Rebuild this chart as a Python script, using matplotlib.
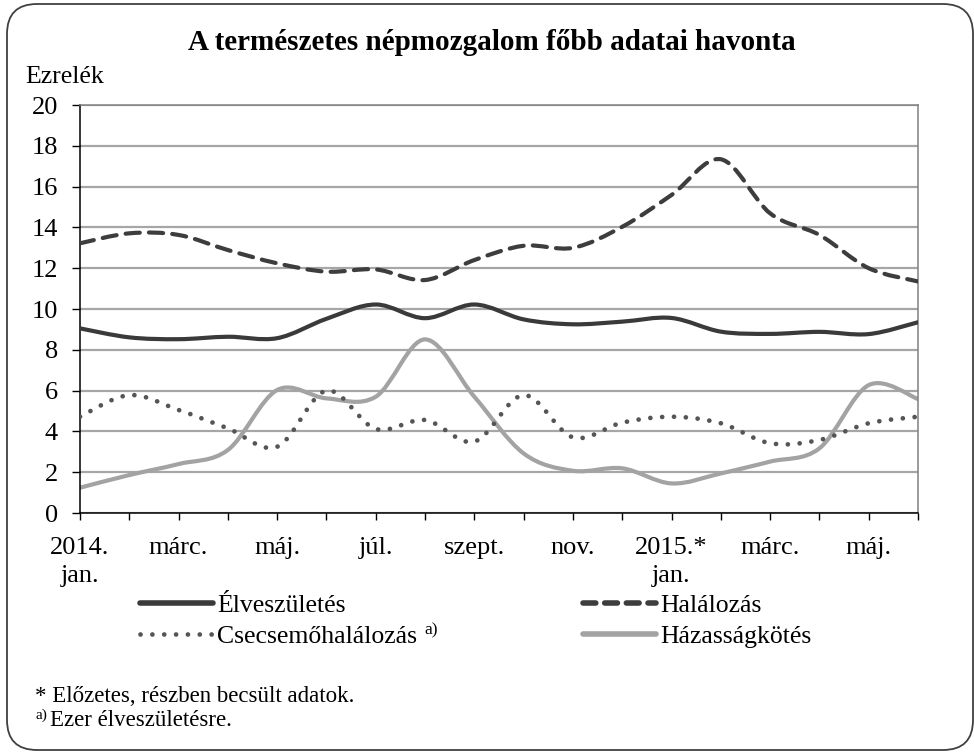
import matplotlib
matplotlib.use("Agg")
import matplotlib.pyplot as plt
import numpy as np
from matplotlib.path import Path
from matplotlib.patches import PathPatch, FancyBboxPatch
from matplotlib.lines import Line2D
from matplotlib.transforms import IdentityTransform

plt.rcParams['font.family'] = ['Liberation Serif', 'DejaVu Serif']

months = ["2014.\njan.", "febr.", "márc.", "ápr.", "máj.", "jún.", "júl.", "aug.", "szept.",
          "okt.", "nov.", "dec.", "2015.*\njan.", "febr.", "márc.", "ápr.", "máj.", "jún."]
elveszuletes = [9.05, 8.61, 8.52, 8.64, 8.57, 9.52, 10.22, 9.55, 10.22,
                9.49, 9.25, 9.38, 9.56, 8.89, 8.78, 8.88, 8.77, 9.35]
halalozas = [13.22, 13.71, 13.63, 12.89, 12.24, 11.83, 11.94, 11.42, 12.40,
             13.10, 13.00, 14.03, 15.59, 17.34, 14.69, 13.63, 12.00, 11.35]
csecsemo = [4.72, 5.78, 5.05, 4.15, 3.25, 6.00, 4.12, 4.56, 3.50,
            5.78, 3.71, 4.43, 4.72, 4.40, 3.42, 3.58, 4.40, 4.72]
hazassag = [1.24, 1.86, 2.40, 3.09, 6.03, 5.62, 5.70, 8.51, 5.70,
            2.92, 2.07, 2.19, 1.45, 1.94, 2.52, 3.17, 6.27, 5.59]

W, H = 974, 754
fig = plt.figure(figsize=(W / 100, H / 100), dpi=100)
ax = fig.add_axes([80 / W, 1 - 513 / H, (918 - 80) / W, (513 - 105) / H])

x = np.arange(len(months))


def smooth_path(xs, ys):
    pts = np.column_stack([xs, ys]).astype(float)
    n = len(pts)
    verts = [pts[0]]
    codes = [Path.MOVETO]
    for i in range(n - 1):
        p0 = pts[i - 1] if i > 0 else pts[i]
        p1 = pts[i]
        p2 = pts[i + 1]
        p3 = pts[i + 2] if i + 2 < n else pts[i + 1]
        c1 = p1 + (p2 - p0) / 6.0
        c2 = p2 - (p3 - p1) / 6.0
        verts += [c1, c2, p2]
        codes += [Path.CURVE4] * 3
    return Path(verts, codes)


C_ELVE = "#3a3a3a"
C_HAL = "#3d3d3d"
C_CSE = "#555555"
C_HAZ = "#a3a3a3"
DASH = (0, (3.4, 2.2))
DOT = (0, (0.01, 2.5))

styles = [
    (elveszuletes, dict(color=C_ELVE, lw=3.0, ls="-"), 3),
    (halalozas, dict(color=C_HAL, lw=3.0, ls=DASH), 3),
    (hazassag, dict(color=C_HAZ, lw=3.0, ls="-"), 2),
    (csecsemo, dict(color=C_CSE, lw=3.4, ls=DOT), 4),
]
for ys, st, z in styles:
    patch = PathPatch(smooth_path(x, ys), fill=False, edgecolor=st["color"], lw=st["lw"],
                      linestyle=st["ls"], capstyle="round", joinstyle="round", zorder=z)
    ax.add_patch(patch)

ax.set_xlim(0, len(months) - 1)
ax.set_ylim(0, 20)
ax.set_yticks(np.arange(0, 21, 2))
ax.set_xticks(x)
ax.set_xticklabels([m if i % 2 == 0 else "" for i, m in enumerate(months)])
ax.grid(axis="y", color="#a6a6a6", lw=1.6, zorder=0)
ax.set_axisbelow(True)
ax.tick_params(axis="y", length=6, width=1, pad=10, labelsize=19, color="#000000")
ax.tick_params(axis="x", length=5, width=1, pad=12, labelsize=19, color="#000000")
for lab in ax.get_xticklabels():
    lab.set_linespacing(1.35)
for s in ["left", "bottom"]:
    ax.spines[s].set_color("#000000")
    ax.spines[s].set_linewidth(1.1)
for s in ["top", "right"]:
    ax.spines[s].set_color("#808080")
    ax.spines[s].set_linewidth(1.1)

# Title and axis unit
fig.text(492 / W, 1 - 43 / H, "A természetes népmozgalom főbb adatai havonta",
         ha="center", va="center", fontsize=21, fontweight="bold")
fig.text(25 / W, 1 - 77 / H, "Ezrelék", ha="left", va="center", fontsize=18.5)

# Legend (two columns placed separately)
common = dict(loc="upper left", frameon=False, fontsize=18.5, handlelength=2.85,
              handletextpad=0.15, labelspacing=0.32, borderaxespad=0, borderpad=0)
leg1 = fig.legend(
    [Line2D([], [], color=C_ELVE, lw=4, solid_capstyle="round"),
     Line2D([], [], color=C_CSE, lw=3.4, ls=DOT, dash_capstyle="round")],
    ["Élveszületés", "Csecsemőhalálozás"],
    bbox_to_anchor=(140 / W, 1 - 594 / H), **common)
leg2 = fig.legend(
    [Line2D([], [], color=C_HAL, lw=4, ls=(0, (2.3, 1.6)), dash_capstyle="round"),
     Line2D([], [], color=C_HAZ, lw=4, solid_capstyle="round")],
    ["Halálozás", "Házasságkötés"],
    bbox_to_anchor=(583 / W, 1 - 594 / H), **common)

fig.canvas.draw()
r = fig.canvas.get_renderer()
bb = leg1.get_texts()[1].get_window_extent(r)
yc = (bb.y0 + bb.y1) / 2
fig.text((bb.x1 + 7) / W, (yc + 7) / H, "a)", fontsize=12.5, ha="left", va="center")

# Footnotes
fig.text(35 / W, 1 - 697 / H, "* Előzetes, részben becsült adatok.", ha="left", va="center", fontsize=16.5)
fig.text(35 / W, 1 - 715 / H, "a)", ha="left", va="center", fontsize=11)
fig.text(50 / W, 1 - 721 / H, "Ezer élveszületésre.", ha="left", va="center", fontsize=16.5)

# Rounded frame
frame = FancyBboxPatch((7, 4), 966, 746, boxstyle="round,pad=0,rounding_size=30",
                       transform=IdentityTransform(), fill=False, edgecolor="#404040", lw=1.3)
fig.patches.append(frame)

fig.savefig("out.png", dpi=100)
